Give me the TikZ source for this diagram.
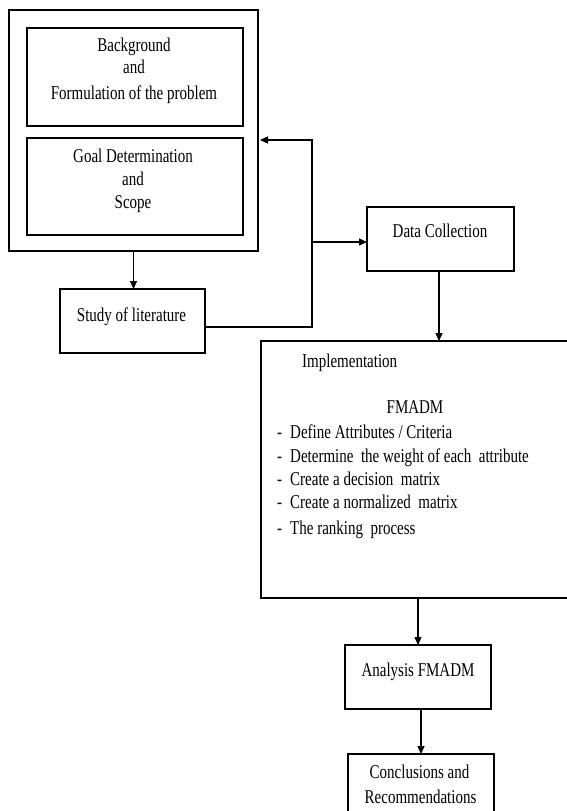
\documentclass[tikz,border=0pt]{standalone}
\usepackage{fontspec}
\setmainfont{Liberation Serif}
\usepackage{graphicx}
\usetikzlibrary{arrows.meta}
\newcommand{\vs}[1]{\scalebox{1}[1.3]{#1}}
\begin{document}
\begin{tikzpicture}[x=1bp,y=-1bp,
  box/.style={draw=black, line width=1.3bp, inner sep=0pt, outer sep=0pt},
  txt/.style={inner sep=0pt, anchor=base, font=\fontsize{15bp}{18bp}\selectfont},
  txtl/.style={txt, anchor=base west},
  arr/.style={line width=1.3bp, -{Triangle[length=8bp,width=7bp]}},
  ln/.style={line width=1.3bp}]
\clip (0,0) rectangle (567,811);
\fill[white] (0,0) rectangle (567,811);
% boxes
\node[box, minimum width=249bp, minimum height=241bp] (outer) at (133.5,130.5) {};
\node[box, minimum width=216bp, minimum height=98bp] (bg) at (135,77) {};
\node[box, minimum width=216bp, minimum height=97bp] (goal) at (135,186.5) {};
\node[box, minimum width=145bp, minimum height=64bp] (study) at (132.5,321) {};
\node[box, minimum width=147bp, minimum height=64bp] (data) at (440.5,239) {};
\node[box, minimum width=314bp, minimum height=257bp] (impl) at (418,469.5) {};
\node[box, minimum width=146bp, minimum height=64bp] (analysis) at (418,677) {};
\node[box, minimum width=146bp, minimum height=64bp] (concl) at (421,786) {};
% texts
\node[txt] (bg1) at (134,51.5) {\vs{Background}};
\node[txt] (bg2) at (134,74) {\vs{and}};
\node[txt] (bg3) at (134,99) {\vs{Formulation of the problem}};
\node[txt] (g1) at (133,162) {\vs{Goal Determination}};
\node[txt] (g2) at (133,185) {\vs{and}};
\node[txt] (g3) at (133,208) {\vs{Scope}};
\node[txt] (studyt) at (131.5,321.5) {\vs{Study of literature}};
\node[txt] (datat) at (440,237.5) {\vs{Data Collection}};
\node[txtl] (implt) at (302,367) {\vs{Implementation}};
\node[txt] (fmadm) at (415,413) {\vs{FMADM}};
\node[txtl] (l1) at (277,438.5) {\vs{\makebox[13bp][l]{-}Define Attributes / Criteria}};
\node[txtl] (l2) at (277,462) {\vs{\makebox[13bp][l]{-}Determine\ \ the weight of each\ \ attribute}};
\node[txtl] (l3) at (277,485.5) {\vs{\makebox[13bp][l]{-}Create a decision\ \ matrix}};
\node[txtl] (l4) at (277,508) {\vs{\makebox[13bp][l]{-}Create a normalized\ \ matrix}};
\node[txtl] (l5) at (277,534) {\vs{\makebox[13bp][l]{-}The ranking\ \ process}};
\node[txt] (analysist) at (418,676.5) {\vs{Analysis FMADM}};
\node[txt] (c1) at (419.5,778) {\vs{Conclusions and}};
\node[txt] (c2) at (420.5,803) {\vs{Recommendations}};
% connectors
\coordinate (s1) at ([yshift=-6bp]study.east);
\coordinate (j2) at (312,140);
\coordinate (j3) at (312,242);
\draw[arr] (outer.south) -- (outer.south |- study.north);
\draw[arr, shorten >=2bp] (s1) -| (j2) -- (outer.east |- j2);
\draw[arr] (j3) -- (data.west |- j3);
\draw[arr] ([xshift=-1.5bp]data.south) -- ([xshift=-1.5bp]data.south |- impl.north);
\draw[arr] (impl.south) -- (analysis.north);
\draw[arr] (analysis.south -| concl.north) -- (concl.north);
\end{tikzpicture}
\end{document}
